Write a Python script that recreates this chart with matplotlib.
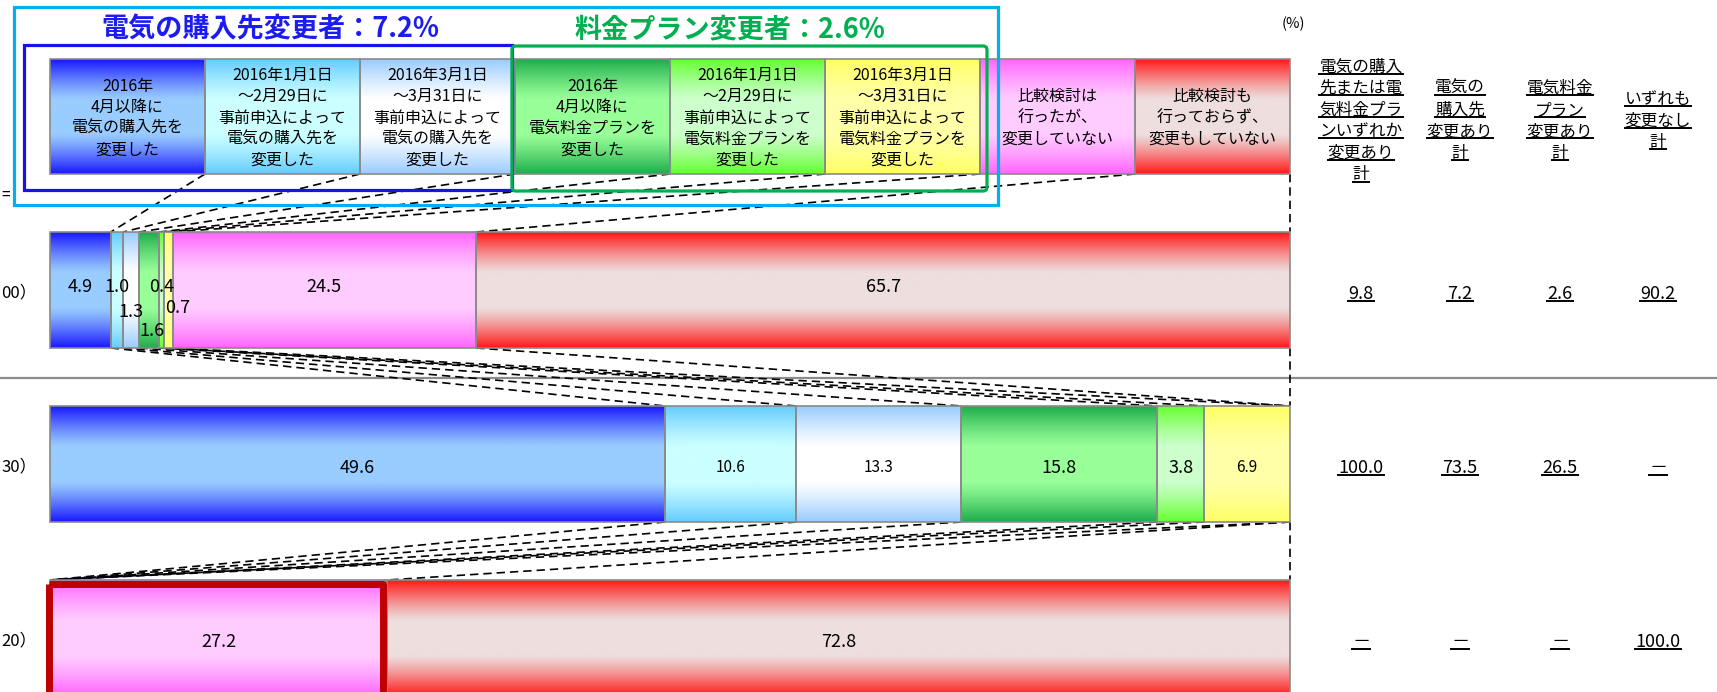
import numpy as np
import matplotlib.pyplot as plt
from matplotlib.patches import Rectangle, FancyBboxPatch
from matplotlib.colors import to_rgb

plt.rcParams['font.family'] = ['Noto Sans CJK JP', 'DejaVu Sans']

# ---- data ----
categories = [
    '2016年\n4月以降に\n電気の購入先を\n変更した',
    '2016年1月1日\n～2月29日に\n事前申込によって\n電気の購入先を\n変更した',
    '2016年3月1日\n～3月31日に\n事前申込によって\n電気の購入先を\n変更した',
    '2016年\n4月以降に\n電気料金プランを\n変更した',
    '2016年1月1日\n～2月29日に\n事前申込によって\n電気料金プランを\n変更した',
    '2016年3月1日\n～3月31日に\n事前申込によって\n電気料金プランを\n変更した',
    '比較検討は\n行ったが、\n変更していない',
    '比較検討も\n行っておらず、\n変更もしていない',
]
row1_values = [4.9, 1.0, 1.3, 1.6, 0.4, 0.7, 24.5, 65.7]
row2_values = [49.6, 10.6, 13.3, 15.8, 3.8, 6.9]
row3_values = [27.2, 72.8]
row_tags = ['00）', '30）', '20）']

summary_headers = [
    ['電気の購入', '先または電', '気料金プラ', 'ンいずれか', '変更あり', '計'],
    ['電気の', '購入先', '変更あり', '計'],
    ['電気料金', 'プラン', '変更あり', '計'],
    ['いずれも', '変更なし', '計'],
]
summary_values = [
    ['9.8', '7.2', '2.6', '90.2'],
    ['100.0', '73.5', '26.5', '－'],
    ['－', '－', '－', '100.0'],
]
title_supplier = '電気の購入先変更者：7.2%'
title_plan = '料金プラン変更者：2.6%'

# ---- styles (edge colour, centre colour) ----
seg_colors = [
    ('#1a1aff', '#99ccff'),
    ('#66ccff', '#ccffff'),
    ('#99ccff', '#ffffff'),
    ('#1fae4d', '#99ff99'),
    ('#66ff33', '#ccffcc'),
    ('#ffff66', '#ffffa8'),
    ('#ff66ff', '#ffccff'),
    ('#ff1a1a', '#eedede'),
]
row2_colors = seg_colors[:6]
row3_colors = seg_colors[6:]

X0, W = 50, 1240
BAR_H = 116
ROW_TOP = [232, 406, 580]
HEAD_TOP, HEAD_BOT = 59, 174


def grad_img(edge, center, n=80):
    t = np.abs(np.linspace(-1, 1, n))
    w = np.clip((t - 0.3) / 0.7, 0, 1) ** 1.2
    e = np.array(to_rgb(edge))
    c = np.array(to_rgb(center))
    img = c[None, :] * (1 - w[:, None]) + e[None, :] * w[:, None]
    return img[:, None, :]


def bounds(vals):
    v = np.array(vals, dtype=float)
    return X0 + W * np.concatenate([[0], np.cumsum(v)]) / v.sum()


def draw_row(ax, vals, colors, top, h):
    b = bounds(vals)
    for i in range(len(vals)):
        ax.imshow(grad_img(*colors[i]), extent=(b[i], b[i + 1], top + h, top),
                  aspect='auto', interpolation='bilinear', zorder=2)
    ax.barh([top + h / 2] * len(vals), np.diff(b), left=b[:-1], height=h,
            facecolor='none', edgecolor='#8a8a8a', linewidth=1.2, zorder=3)
    return b


fig = plt.figure(figsize=(17.17, 6.92), dpi=100)
ax = fig.add_axes([0, 0, 1, 1])

# header legend cells
hb = X0 + W * np.arange(len(categories) + 1) / len(categories)
hdr_h = HEAD_BOT - HEAD_TOP
for i in range(len(categories)):
    ax.imshow(grad_img(*seg_colors[i]), extent=(hb[i], hb[i + 1], HEAD_BOT, HEAD_TOP),
              aspect='auto', interpolation='bilinear', zorder=2)
ax.barh([HEAD_TOP + hdr_h / 2] * len(categories), np.diff(hb), left=hb[:-1], height=hdr_h,
        facecolor='none', edgecolor='#8a8a8a', linewidth=1.2, zorder=3)
for i, lab in enumerate(categories):
    ax.text((hb[i] + hb[i + 1]) / 2, 118, lab, ha='center', va='center',
            fontsize=11.5, linespacing=1.33, zorder=5)

# group boxes
ax.add_patch(Rectangle((14, 7), 984, 198, fill=False, edgecolor='#00b0f0', lw=2.3, zorder=4))
ax.add_patch(Rectangle((24, 45), 488, 145, fill=False, edgecolor='#1414e6', lw=2.3, zorder=4))
ax.add_patch(FancyBboxPatch((512, 46), 475, 145, boxstyle='round,pad=0,rounding_size=4',
                            fill=False, edgecolor='#00b050', lw=2.3, zorder=4))
ax.text(270, 29, title_supplier, ha='center', va='center', fontsize=19.5,
        fontweight='bold', color='#1c1cf0')
ax.text(730, 29, title_plan, ha='center', va='center', fontsize=19.5,
        fontweight='bold', color='#00b050')

# bars
b1 = draw_row(ax, row1_values, seg_colors, ROW_TOP[0], BAR_H)
b2 = draw_row(ax, row2_values, row2_colors, ROW_TOP[1], BAR_H)
b3 = draw_row(ax, row3_values, row3_colors, ROW_TOP[2], BAR_H)

# highlight frame around pink segment of row 3
ax.add_patch(Rectangle((b3[0] - 1.5, ROW_TOP[2] + 3.5), b3[1] - b3[0] - 3, BAR_H + 10,
                       fill=False, edgecolor='#c00000', lw=5, joinstyle='round', zorder=6))

# segment value labels
r1_off = [(0, -3), (0, -3), (0, 22), (3, 41), (0, -3), (9, 18), (0, -3), (0, -3)]
r2_size = [13, 11, 11, 13, 13, 11]
for i, v in enumerate(row1_values):
    cx = (b1[i] + b1[i + 1]) / 2 + r1_off[i][0]
    ax.text(cx, ROW_TOP[0] + BAR_H / 2 + r1_off[i][1], f'{v:.1f}', ha='center',
            va='center', fontsize=13, zorder=7)
for i, v in enumerate(row2_values):
    ax.text((b2[i] + b2[i + 1]) / 2, ROW_TOP[1] + BAR_H / 2 + 4, f'{v:.1f}', ha='center',
            va='center', fontsize=r2_size[i], zorder=7)
for i, v in enumerate(row3_values):
    ax.text((b3[i] + b3[i + 1]) / 2, ROW_TOP[2] + BAR_H / 2 + 4, f'{v:.1f}', ha='center',
            va='center', fontsize=13, zorder=7)

# dashed connectors
ds = dict(color='black', lw=1.2, ls=(0, (5, 3)), zorder=1)
r1t, r1b = ROW_TOP[0], ROW_TOP[0] + BAR_H
r2t, r2b = ROW_TOP[1], ROW_TOP[1] + BAR_H
r3t = ROW_TOP[2]
for k in range(1, len(hb)):
    ax.plot([hb[k], b1[k]], [HEAD_BOT, r1t], **ds)
for k in range(1, len(b2)):
    ax.plot([b1[k], b2[k]], [r1b, r2t], **ds)
ax.plot([b1[7], b2[-1]], [r1b, r2t], **ds)
ax.plot([b1[-1], b2[-1]], [r1b, r2t], **ds)
for k in range(1, len(b2)):
    ax.plot([b2[k], b3[0]], [r2b, r3t], **ds)
ax.plot([b2[-1], b3[1]], [r2b, r3t], **ds)
ax.plot([b2[-1], b3[-1]], [r2b, r3t], **ds)

# separator
ax.plot([0, 1717], [378, 378], color='#8c8c8c', lw=1.6, zorder=0.5)

# row labels (left edge of the reference is cropped)
for i, tag in enumerate(row_tags):
    ax.text(1, ROW_TOP[i] + BAR_H / 2 + 3, tag, ha='left', va='center', fontsize=12)
ax.text(1, 195, '=', ha='left', va='center', fontsize=11)

ax.text(1293, 24, '(%)', ha='center', va='center', fontsize=10.5)

# summary columns
col_x = [1361, 1460, 1560, 1658]
underlined = []
for j, lines in enumerate(summary_headers):
    n = len(lines)
    for m, ln in enumerate(lines):
        y = 121 + (m - (n - 1) / 2) * 21.6
        underlined.append(ax.text(col_x[j], y, ln, ha='center', va='center', fontsize=12))
for i, vals in enumerate(summary_values):
    for j, v in enumerate(vals):
        underlined.append(ax.text(col_x[j], ROW_TOP[i] + BAR_H / 2 + 4, v, ha='center',
                                  va='center', fontsize=13))

ax.set_xlim(0, 1717)
ax.set_ylim(692, 0)
ax.axis('off')

fig.canvas.draw()
renderer = fig.canvas.get_renderer()
inv = ax.transData.inverted()
for t in underlined:
    bb = t.get_window_extent(renderer)
    (xa, ya), (xb, _) = inv.transform([(bb.x0, bb.y0), (bb.x1, bb.y0)])
    ax.plot([xa, xb], [ya - 2, ya - 2], color='black', lw=1.4)

ax.set_xlim(0, 1717)
ax.set_ylim(692, 0)
fig.savefig('out.png', dpi=100)
